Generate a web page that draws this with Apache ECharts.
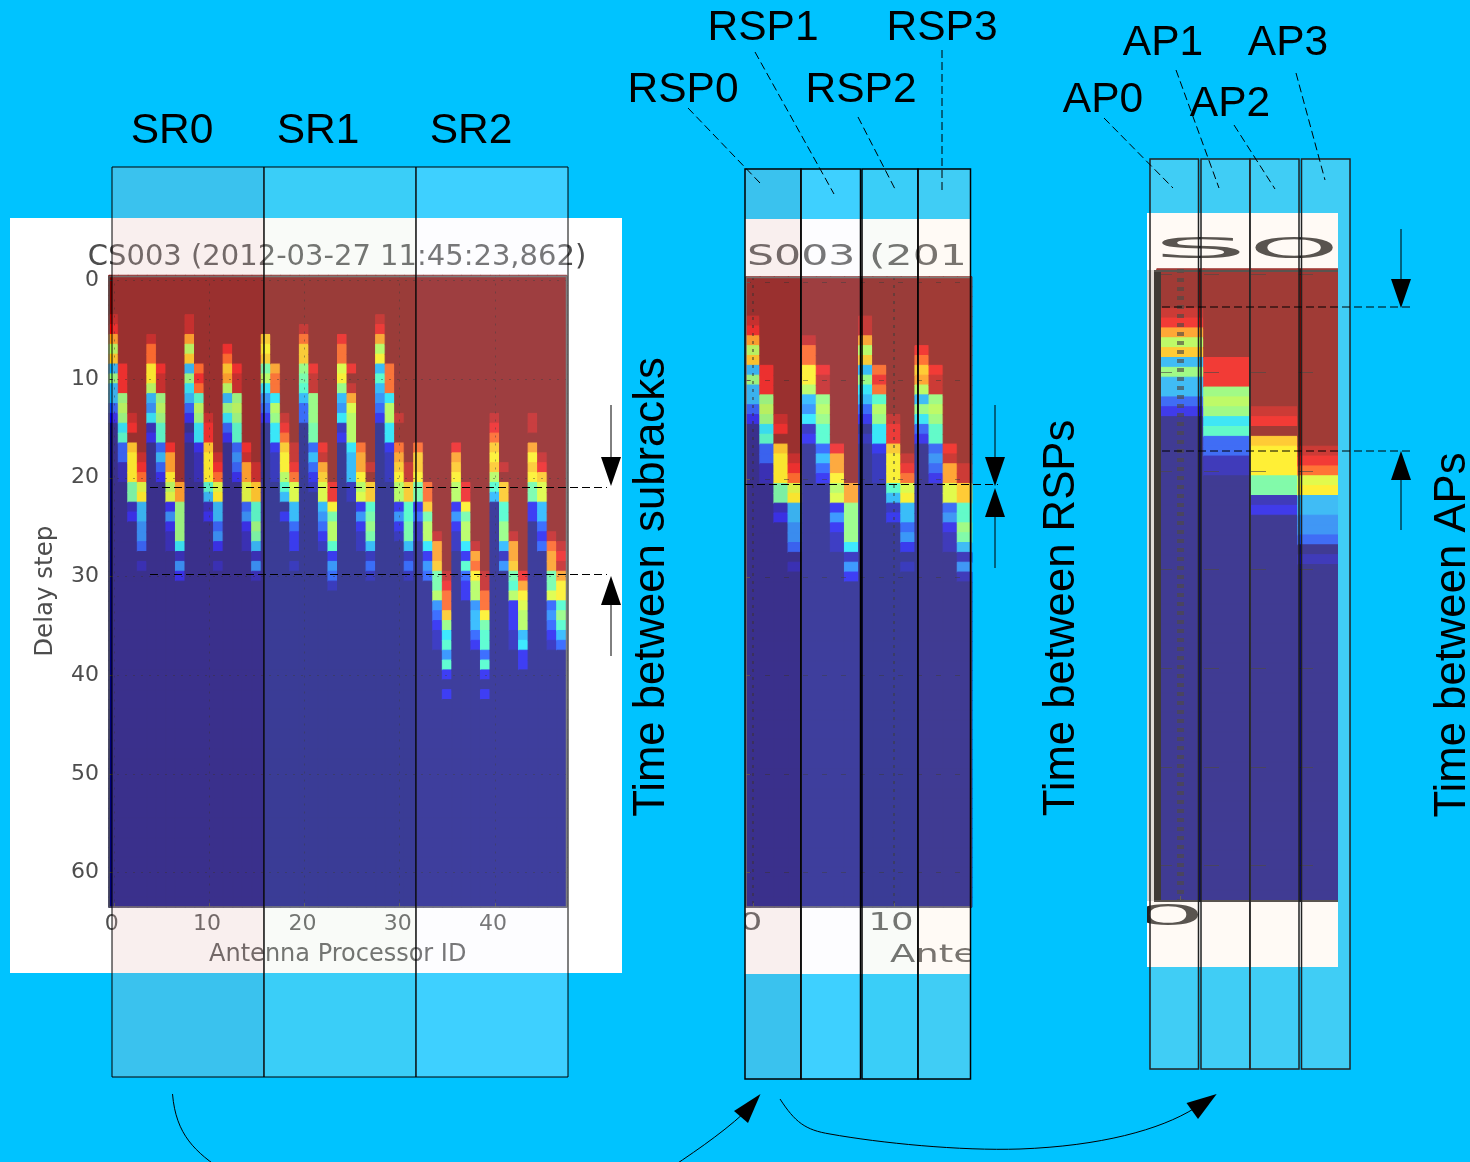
<!DOCTYPE html>
<html>
<head>
<meta charset="utf-8">
<style>html,body{margin:0;padding:0;background:#00c3ff}#c{width:1470px;height:1162px}</style>
<script src="https://cdn.jsdelivr.net/npm/echarts@6/dist/echarts.min.js"></script>
</head>
<body>
<div id="c"></div>
<script>
// colour levels: 0 = background navy ... 18 = saturated dark red
const jetLevels = ['#00007c','#0000b0','#0000f0','#0043ff','#007bff','#00acff','#00e5ff','#2fffc5','#59ff9b','#82ff6b','#a8ff43','#d8ff1e','#fff000','#ffc100','#ff9000','#ff4c00','#ee0000','#bb0000','#800000'];

// first delay step of the visible transition for each antenna processor
const transitionStart = [4,9,14,18,6,9,17,21,4,9,14,18,7,9,17,19,6,9,14,17,5,9,17,21,6,9,17,19,4,9,14,19,17,21,26,30,17,21,27,30,14,19,26,30,14,18,26,27];

// colour levels from that first step on; above is level 18, below is level 0
const transitionLevels = [
 [17,16,14,10,13,5,9,5,5,3,2],
 [16,16,16,9,10,9,6,7,3,3,1,1],
 [17,16,18,13,12,12,12,8,8,1,2],
 [17,16,15,11,12,5,5,4,4,3,0,1],
 [17,15,15,12,12,10,5,4,6,1,2],
 [16,17,17,9,10,9,7,7,3,5,3,2],
 [16,14,14,12,10,11,2,4,2,1,1],
 [14,14,9,9,9,9,6,1,4,2],
 [17,17,14,10,13,5,9,6,5,3,2,0,1],
 [15,16,15,7,10,9,6,6,2,1,1,1],
 [17,16,16,13,12,12,12,7,5,1,2],
 [17,16,15,11,12,5,5,3,4,2,0,1],
 [16,15,13,14,10,5,9,6,3,2],
 [16,17,17,9,10,9,7,7,3,4,3,2],
 [16,17,14,14,11,11,3,4,2,1,1],
 [17,17,13,13,7,7,9,8,5,1,4,1],
 [13,12,13,8,10,6,4,3,2],
 [14,15,15,6,10,9,6,6,2,1,1,1],
 [17,16,15,13,12,12,10,7,5,0,2],
 [17,17,16,15,11,11,5,5,3,2,2,0,1],
 [17,15,13,13,9,8,7,5,3,3],
 [16,17,17,9,9,9,8,8,3,5,3,2,1],
 [16,17,14,13,11,11,5,4,3,2,1],
 [16,16,12,8,10,10,7,2,4,3,1],
 [16,15,15,11,12,9,5,4,6,1,2],
 [16,18,17,14,11,10,10,10,6,5,5,5,1,1],
 [15,14,14,12,10,11,2,4,2,1,1],
 [17,18,13,13,7,8,9,8,5,1,3,1],
 [17,16,14,10,12,5,7,5,4,3,2],
 [15,15,15,6,10,10,6,6,2,1,1,1],
 [17,18,18,15,14,13,12,10,10,2,4,2,1],
 [17,17,13,13,7,7,8,8,5,1,3,1],
 [15,13,13,12,8,8,2,3,1,1],
 [15,15,13,8,10,10,6,2,4,3],
 [17,14,14,13,8,8,10,4,3,2,1,1],
 [17,16,15,15,13,9,6,7,4,7,2,0,2],
 [16,14,13,12,10,10,2,4,2,1,1],
 [16,16,12,8,10,10,6,2,7,3,2,2],
 [17,14,15,12,10,10,4,5,5,3,2],
 [17,17,15,15,12,8,7,7,3,7,2,0,2],
 [17,16,15,13,12,13,10,7,5],
 [17,18,13,13,7,7,9,9,5,1,4],
 [17,14,14,13,8,7,10,2,2,2,1,1],
 [16,14,12,11,10,10,5,6,2,2],
 [17,17,18,14,12,13,12,8,8,2,2],
 [17,16,13,11,11,5,5,3,2,3],
 [17,15,14,14,8,8,11,3,4,3,2,1],
 [17,16,17,14,12,12,7,9,7,5,3]
];

const antennaCount = transitionLevels.length;
const delaySteps = 64;
const antennaIds = Array.from({length: antennaCount}, (_, i) => String(i));
const delayIds = Array.from({length: delaySteps}, (_, i) => String(i));

function cells(columns) {
  const out = [];
  for (let c = 0; c < columns; c++) {
    const start = transitionStart[c], lv = transitionLevels[c];
    for (let r = 0; r < delaySteps; r++) {
      const v = r < start ? 18 : (r - start < lv.length ? lv[r - start] : 0);
      out.push({value:[c, r, v], itemStyle:{color:jetLevels[v], borderColor:jetLevels[v], borderWidth:1}});
    }
  }
  return out;
}

const ink = '#000', sans = '"Liberation Sans", Arial, sans-serif', dv = '"DejaVu Sans", sans-serif';
const graphics = [];
const rect = (x, y, w, h, fill, z, stroke, lw) => graphics.push({type:'rect', z, shape:{x, y, width:w, height:h}, style:{fill:fill||'none', stroke:stroke||'none', lineWidth:lw||0}, silent:true});
const line = (x1, y1, x2, y2, dash, color, lw, z) => graphics.push({type:'line', z:z||60, shape:{x1, y1, x2, y2}, style:{stroke:color||ink, lineWidth:lw||1, lineDash:dash||null}, silent:true});
const text = (t, x, y, size, opt) => graphics.push(Object.assign({type:'text', x, y, z:(opt&&opt.z)||60, silent:true, style:{text:t, fontSize:size, fontFamily:(opt&&opt.font)||sans, fill:(opt&&opt.fill)||ink, align:(opt&&opt.align)||'center', verticalAlign:'middle', textAlign:(opt&&opt.align)||'center', textVerticalAlign:'middle'}}, (opt&&opt.el)||{}));
const tri = (pts) => graphics.push({type:'polygon', z:60, shape:{points:pts}, style:{fill:ink}, silent:true});
const bez = (x1,y1,cpx1,cpy1,cpx2,cpy2,x2,y2) => graphics.push({type:'bezierCurve', z:60, silent:true, shape:{x1,y1,cpx1,cpy1,cpx2,cpy2,x2,y2}, style:{stroke:ink, lineWidth:1, fill:'none'}});

// white picture panels, beneath the heatmaps
rect(10, 218, 612, 755, '#fff', -1);
rect(745, 219, 226, 755, '#fff', -1);
rect(1147, 213, 191, 754, '#fff', -1);

// stretched texts inside panels
const grey = '#4d4d4d';
text('CS003 (2012-03-27 11:45:23,862)', 337, 257, 29, {font:dv, fill:grey, z:1});
text('S003 (201', 857, 257, 29, {font:dv, fill:grey, z:1, el:{scaleX:1.47}});
text('0', 751, 924, 24, {font:dv, fill:grey, z:1, el:{scaleX:1.48}});
rect(735, 910, 10, 30, '#00c3ff', 2);
text('10', 891, 924, 24, {font:dv, fill:grey, z:1, el:{scaleX:1.48}});
text('Ante', 933, 955, 25, {font:dv, fill:grey, z:1, el:{scaleX:1.48}});
rect(970.5, 935, 30, 35, '#00c3ff', 2);
text('S', 1200, 250, 29, {font:dv, fill:'#222', z:1, el:{scaleX:5.2}});
text('O', 1294, 250, 29, {font:dv, fill:'#222', z:1, el:{scaleX:3.95}});
text('0', 1168, 917, 29, {font:dv, fill:'#222', z:1, el:{scaleX:4.1}});
rect(1120, 900, 27, 35, '#00c3ff', 2);

// panel frames and clipping of the third crop
rect(109, 276.5, 457.5, 630.5, 'none', 6, '#555', 1.5);
rect(746, 277.5, 225, 629.5, 'none', 6, '#555', 1.5);
rect(1147, 213, 191, 57, '#fff', 0.5);
rect(1338, 262, 20, 640, '#00c3ff', 5);
rect(1147, 270, 7, 631, '#d8d8d8', 5);
rect(1154, 270, 7, 631, '#000', 5);
rect(1154, 270, 184, 2, '#222', 5);
rect(1154, 900, 184, 2, '#222', 5);

// translucent sub-rack / RSP / AP boxes
const tint0 = 'rgba(232,192,188,0.25)', tint1 = 'rgba(232,240,228,0.25)', tint2 = 'rgba(248,248,255,0.25)', tint3 = 'rgba(255,236,216,0.25)';
[[112,264,tint0],[264,416,tint1],[416,568,tint2]].forEach(b => rect(b[0], 167, b[1]-b[0], 910, b[2], 50, '#000', 1));
[[745,801,tint0],[801,860.5,tint2],[862,918,tint1],[918,970.5,tint3]].forEach(b => rect(b[0], 169, b[1]-b[0], 910, b[2], 50, '#000', 1.5));
[[1150,1198.5,tint3],[1201,1250,tint3],[1250,1299,tint3],[1301.5,1350,tint3]].forEach(b => rect(b[0], 159, b[1]-b[0], 910, b[2], 50, '#222', 1.5));

// labels
[['SR0',172,129],['SR1',318,129],['SR2',471,129],['RSP0',683,88],['RSP1',763,26],['RSP2',861,88],['RSP3',942,26],['AP0',1103,98],['AP1',1163,41],['AP2',1230,102],['AP3',1288,41]]
  .forEach(l => text(l[0], l[1], l[2]+2.5, 42.5));
[['Time between subracks',652,587],['Time between RSPs',1062,618],['Time between APs',1453,635]]
  .forEach(l => text(l[0], l[1], l[2], 43.7, {el:{rotation:Math.PI/2}}));

// leader lines
const dash = [8,4];
[[688,108,760,183],[755,52,834,194],[858,117,895,189],[942,50,942,194],[1104,118,1173,188],[1176,70,1219,188],[1234,125,1275,189],[1296,73,1325,180]]
  .forEach(l => line(l[0], l[1], l[2], l[3], dash));

// time markers
line(150, 487.5, 607, 487.5, dash); line(150, 574.5, 607, 574.5, dash);
line(745, 484.5, 998, 484.5, dash);
line(1162, 307, 1413, 307, dash); line(1162, 451, 1413, 451, dash);
const down = (x, y1, y2) => { line(x, y1, x, y2-28); tri([[x-10,y2-29],[x+10,y2-29],[x,y2]]); };
const up = (x, y1, y2) => { line(x, y1+28, x, y2); tri([[x-10,y1+29],[x+10,y1+29],[x,y1]]); };
down(611, 405, 486); up(611, 576, 656);
down(995, 405, 486); up(995, 488, 568);
down(1401, 229, 308); up(1401, 451, 530);

// curved arrows
bez(172.5,1094, 176,1135, 195,1152, 225,1172);
bez(660,1175, 690,1155, 720,1135, 744,1113);
bez(780,1099, 795,1122, 805,1130, 830,1134);
bez(830,1134, 880,1143, 960,1151, 1020,1149);
bez(1020,1149, 1100,1146, 1160,1130, 1195,1108);
tri([[760.5,1094],[734,1111],[748,1123]]);
tri([[1216.7,1094],[1186.5,1103],[1198,1119]]);

function every10(i) { return i % 10 === 0; }
function axes(gridIndex, catData, dotColor, xDash, yDash, dotWidth, xLabels) {
  const labelStyle = {color:grey, fontFamily:dv, fontSize:22};
  return {
    x: {type:'category', gridIndex, data:catData, z:3, position:'bottom',
        name: xLabels ? 'Antenna Processor ID' : '', nameLocation:'middle', nameGap:36, nameTextStyle:{color:grey, fontFamily:dv, fontSize:24},
        axisLine:{show:false}, axisTick:{show:true, inside:true, length:4, alignWithLabel:true, interval:every10, lineStyle:{color:'#333'}},
        axisLabel:{show:!!xLabels, interval:every10, margin:6, padding:[0,4,0,0], ...labelStyle},
        splitLine:{show:true, alignWithLabel:true, interval:every10, lineStyle:{color:dotColor, type:xDash, width:dotWidth}}},
    y: {type:'category', gridIndex, data:delayIds, inverse:true, z:3,
        name: xLabels ? 'Delay step' : '', nameLocation:'middle', nameGap:51, nameTextStyle:{color:grey, fontFamily:dv, fontSize:24.5},
        axisLine:{show:false}, axisTick:{show:true, inside:true, length:4, alignWithLabel:true, interval:every10, lineStyle:{color:'#333'}},
        axisLabel:{show:!!xLabels, interval:every10, margin:10, padding:[4,0,0,0], ...labelStyle},
        splitLine:{show:true, alignWithLabel:true, interval:every10, lineStyle:{color:dotColor, type:yDash, width:1}}}
  };
}
const axA = axes(0, antennaIds, 'rgba(0,0,0,0.45)', [2,6], [2,6], 1, true);
const axB = axes(1, antennaIds.slice(0,16), 'rgba(0,0,0,0.5)', [3,5], [5,14], 2, false);
const axC = axes(2, antennaIds.slice(0,4), 'rgba(20,20,20,0.65)', [4,5], [15,32], 7, false);

const chart = echarts.init(document.getElementById('c'), null, {renderer:'canvas'});
chart.setOption({
  animation:false,
  backgroundColor:'#00c3ff',
  grid:[
    {left:109, top:275.5, width:457.5, height:631.5},
    {left:746, top:277, width:225.6, height:630},
    {left:1157, top:269, width:188, height:631}
  ],
  xAxis:[axA.x, axB.x, axC.x],
  yAxis:[axA.y, axB.y, axC.y],
  visualMap:{show:false, type:'continuous', min:0, max:18, dimension:2, seriesIndex:[0,1,2], inRange:{color:jetLevels}},
  series:[
    {type:'heatmap', xAxisIndex:0, yAxisIndex:0, data:cells(48), progressive:0},
    {type:'heatmap', xAxisIndex:1, yAxisIndex:1, data:cells(16), progressive:0},
    {type:'heatmap', xAxisIndex:2, yAxisIndex:2, data:cells(4), progressive:0}
  ],
  graphic:{elements:graphics}
});
</script>
</body>
</html>
